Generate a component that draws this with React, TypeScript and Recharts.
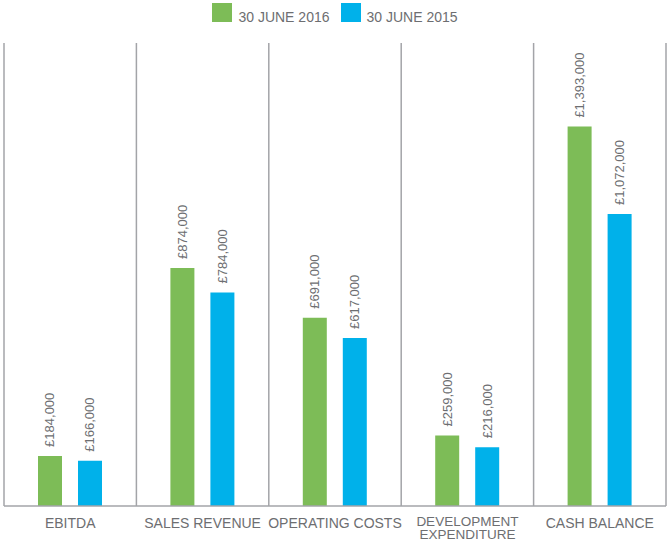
import React from 'react';
import { BarChart, Bar, XAxis, YAxis, CartesianGrid, Legend, LabelList } from 'recharts';

const categories = ['EBITDA', 'SALES REVENUE', 'OPERATING COSTS', 'DEVELOPMENT\nEXPENDITURE', 'CASH BALANCE'];
const values2016 = [184000, 874000, 691000, 259000, 1393000];
const values2015 = [166000, 784000, 617000, 216000, 1072000];
const seriesNames = ['30 JUNE 2016', '30 JUNE 2015'];
const colors = ['#7dbc57', '#00b1ea'];

const data = categories.map((c, i) => ({ name: c, y2016: values2016[i], y2015: values2015[i] }));

const TEXT = '#6d6e71';
const FONT = '"Liberation Sans", Arial, sans-serif';

const fmt = (v: number) => '£' + v.toLocaleString('en-GB');

const ValueLabel = (props: any) => {
  const { x, y, width, value } = props;
  const cx = x + width / 2;
  const ty = y - 9;
  return (
    <text
      x={cx}
      y={ty}
      transform={`rotate(-90 ${cx} ${ty})`}
      textAnchor="start"
      dominantBaseline="central"
      fill={TEXT}
      fontSize={13}
      fontFamily={FONT}
    >
      {fmt(value)}
    </text>
  );
};

const CatTick = (props: any) => {
  const { x, y, payload } = props;
  const lines = String(payload.value).split('\n');
  if (lines.length > 1) {
    return (
      <g>
        {lines.map((l, i) => (
          <text key={i} x={x} y={y + 11.5 + i * 13.5} textAnchor="middle" fill={TEXT} fontSize={13.5} fontFamily={FONT}>
            {l}
          </text>
        ))}
      </g>
    );
  }
  return (
    <text x={x} y={y + 14} textAnchor="middle" fill={TEXT} fontSize={14} fontFamily={FONT}>
      {lines[0]}
    </text>
  );
};

const LegendContent = () => (
  <div style={{ display: 'flex', justifyContent: 'center', height: 24, fontFamily: FONT, fontSize: 14, color: TEXT }}>
    {seriesNames.map((n, i) => (
      <div key={n} style={{ display: 'flex', alignItems: 'flex-start', marginLeft: i === 0 ? 0 : 11 }}>
        <div style={{ width: 20, height: 19, background: colors[i], marginRight: 6, marginTop: 3 }} />
        <span style={{ lineHeight: '16px', marginTop: 9 }}>{n}</span>
      </div>
    ))}
  </div>
);

export default function App() {
  return (
    <div style={{ position: 'absolute', left: 0, top: 0 }}>
      <BarChart
        width={668}
        height={542}
        data={data}
        margin={{ top: 19, right: 2, bottom: 0, left: 4 }}
        barSize={24}
        barGap={16}
      >
        <CartesianGrid
          horizontal={false}
          stroke="#a3a4a8"
          strokeWidth={1.5}
          verticalCoordinatesGenerator={({ offset }: any) =>
            categories.concat(['']).map((_, i) => offset.left + (i * offset.width) / categories.length)
          }
        />
        <XAxis
          dataKey="name"
          tickLine={false}
          axisLine={{ stroke: '#a3a4a8', strokeWidth: 1.5 }}
          tick={<CatTick />}
          height={36}
          interval={0}
        />
        <YAxis hide domain={[0, 1700000]} />
        <Legend verticalAlign="top" align="center" wrapperStyle={{ top: 0 }} content={<LegendContent />} />
        <Bar dataKey="y2016" name={seriesNames[0]} fill={colors[0]} isAnimationActive={false}>
          <LabelList dataKey="y2016" content={<ValueLabel />} />
        </Bar>
        <Bar dataKey="y2015" name={seriesNames[1]} fill={colors[1]} isAnimationActive={false}>
          <LabelList dataKey="y2015" content={<ValueLabel />} />
        </Bar>
      </BarChart>
    </div>
  );
}
